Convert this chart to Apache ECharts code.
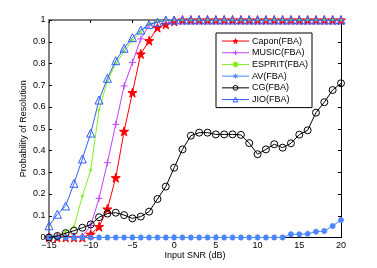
<!DOCTYPE html>
<html><head><meta charset="utf-8">
<script src="https://cdn.jsdelivr.net/npm/echarts@6/dist/echarts.min.js"></script>
<style>html,body{margin:0;padding:0;background:#fff}#c{width:377px;height:268px}</style>
</head><body><div id="c"></div>
<script>
const snr = [-15,-14,-13,-12,-11,-10,-9,-8,-7,-6,-5,-4,-3,-2,-1,0,1,2,3,4,5,6,7,8,9,10,11,12,13,14,15,16,17,18,19,20];
const capon = [0,0,0,0,0,0.015,0.05,0.131,0.275,0.488,0.666,0.844,0.905,0.965,0.98,0.994,1,1,1,1,1,1,1,1,1,1,1,1,1,1,1,1,1,1,1,1];
const music = [0,0,0,0,0.005,0.055,0.18,0.344,0.52,0.697,0.805,0.913,0.977,0.993,1,1,1,1,1,1,1,1,1,1,1,1,1,1,1,1,1,1,1,1,1,1];
const esprit = [0,0.005,0.027,0.05,0.19,0.31,0.586,0.72,0.80,0.856,0.905,0.945,0.98,0.995,1,1,1,1,1,1,1,1,1,1,1,1,1,1,1,1,1,1,1,1,1,1];
const av = [0,0,0,0,0,0,0,0,0,0,0,0,0,0,0,0,0,0,0,0,0,0,0,0,0,0,0,0,0,0.015,0.015,0.017,0.027,0.03,0.053,0.08];
const cg = [0,0.007,0.02,0.031,0.045,0.06,0.093,0.11,0.114,0.103,0.088,0.096,0.119,0.177,0.234,0.321,0.405,0.468,0.482,0.482,0.474,0.474,0.474,0.472,0.434,0.383,0.405,0.429,0.413,0.433,0.473,0.493,0.574,0.622,0.678,0.709];
const jio = [0.054,0.107,0.145,0.249,0.361,0.48,0.632,0.732,0.813,0.87,0.919,0.954,0.98,0.99,1,1,1,1,1,1,1,1,1,1,1,1,1,1,1,1,1,1,1,1,1,1];
const xTicks = [-15,-10,-5,0,5,10,15,20];
const yTicks = [0,0.1,0.2,0.3,0.4,0.5,0.6,0.7,0.8,0.9,1];
const names = ['Capon(FBA)','MUSIC(FBA)','ESPRIT(FBA)','AV(FBA)','CG(FBA)','JIO(FBA)'];

const pair = a => a.map((v,i)=>[snr[i],v]);
const FONT = 'Liberation Sans, Arial, sans-serif';
const STAR = 'path://M50,0 L61,35 L98,35 L68,57 L79,91 L50,70 L21,91 L32,57 L2,35 L39,35 Z';
const PLUS = 'path://M5,0L5,10M0,5L10,5';
const AST = 'path://M5,0L5,10M0,5L10,5M1.5,1.5L8.5,8.5M8.5,1.5L1.5,8.5';
const clear = 'rgba(255,255,255,0)';

function mk(name, data, color, symbol, size, fill, z, bw) {
  return {
    name, type:'line', data: pair(data), z,
    symbol, symbolSize: size, showSymbol: symbol !== 'none',
    lineStyle:{color, width:1},
    itemStyle:{color: fill, borderColor: color, borderWidth: bw || 1},
    emphasis:{disabled:true}, animation:false
  };
}

const chart = echarts.init(document.getElementById('c'), null, {renderer:'canvas'});
chart.setOption({
  animation:false,
  backgroundColor:'#fff',
  grid:{left:49, right:36, top:20, bottom:30.5, containLabel:false},
  legend:{
    orient:'vertical', left:216, top:33,
    data: names,
    itemWidth:27, itemHeight:6, itemGap:0,
    padding:[2.2,4,2.2,5.5],
    borderColor:'#000', borderWidth:1, backgroundColor:'#fff',
    itemStyle:{borderWidth:1},
    lineStyle:{width:1},
    textStyle:{fontFamily:FONT, fontSize:9, color:'#000', lineHeight:11.7, padding:[0,0,0,-2]},
    selectedMode:false
  },
  xAxis:[{
    type:'value', min:-15, max:20, interval:5, position:'bottom',
    name:'Input SNR (dB)', nameLocation:'middle', nameGap:14, nameMoveOverlap:false,
    nameTextStyle:{fontFamily:FONT, fontSize:9, color:'#000', verticalAlign:'top'},
    axisLine:{show:true, onZero:false, lineStyle:{color:'#000', width:1}},
    axisTick:{show:true, inside:true, length:3, lineStyle:{color:'#000'}},
    axisLabel:{fontFamily:FONT, fontSize:9, color:'#000', margin:3.5,
      formatter:v=>xTicks.includes(v)?String(v).replace('-','\u2212'):''},
    splitLine:{show:false}
  },{
    type:'value', min:-15, max:20, interval:5, position:'top',
    axisLine:{show:true, onZero:false, lineStyle:{color:'#808080', width:2}},
    axisTick:{show:true, inside:true, length:3, lineStyle:{color:'#000'}},
    axisLabel:{show:false}, splitLine:{show:false}
  }],
  yAxis:[{
    type:'value', min:0, max:1, interval:0.1, position:'left',
    name:'Probability of Resolution', nameLocation:'middle', nameGap:21, nameMoveOverlap:false,
    nameTextStyle:{fontFamily:FONT, fontSize:9, color:'#000'},
    axisLine:{show:true, onZero:false, lineStyle:{color:'#808080', width:2}},
    axisTick:{show:true, inside:true, length:3, lineStyle:{color:'#000'}},
    axisLabel:{fontFamily:FONT, fontSize:9, color:'#000', margin:3.5,
      formatter:v=>{const t=yTicks.find(y=>Math.abs(y-v)<1e-9);return t===undefined?'':String(t);}},
    splitLine:{show:false}
  },{
    type:'value', min:0, max:1, interval:0.1, position:'right',
    axisLine:{show:true, onZero:false, lineStyle:{color:'#000', width:1}},
    axisTick:{show:true, inside:true, length:3, lineStyle:{color:'#000'}},
    axisLabel:{show:false}, splitLine:{show:false}
  }],
  series:[
    mk(names[0], capon, '#ff0000', STAR, 9, '#ff0000', 2),
    mk(names[1], music, '#bf40ff', PLUS, 7, clear, 3),
    mk(names[2], esprit, '#80f020', 'circle', 2, '#80f020', 4),
    mk(names[3], av, '#4a86ff', AST, 6, '#4a86ff', 5, 1.6),
    mk(names[4], cg, '#000000', 'circle', 7, clear, 6),
    mk(names[5], jio, '#2f5fff', 'triangle', 8, clear, 7)
  ]
});
</script></body></html>
